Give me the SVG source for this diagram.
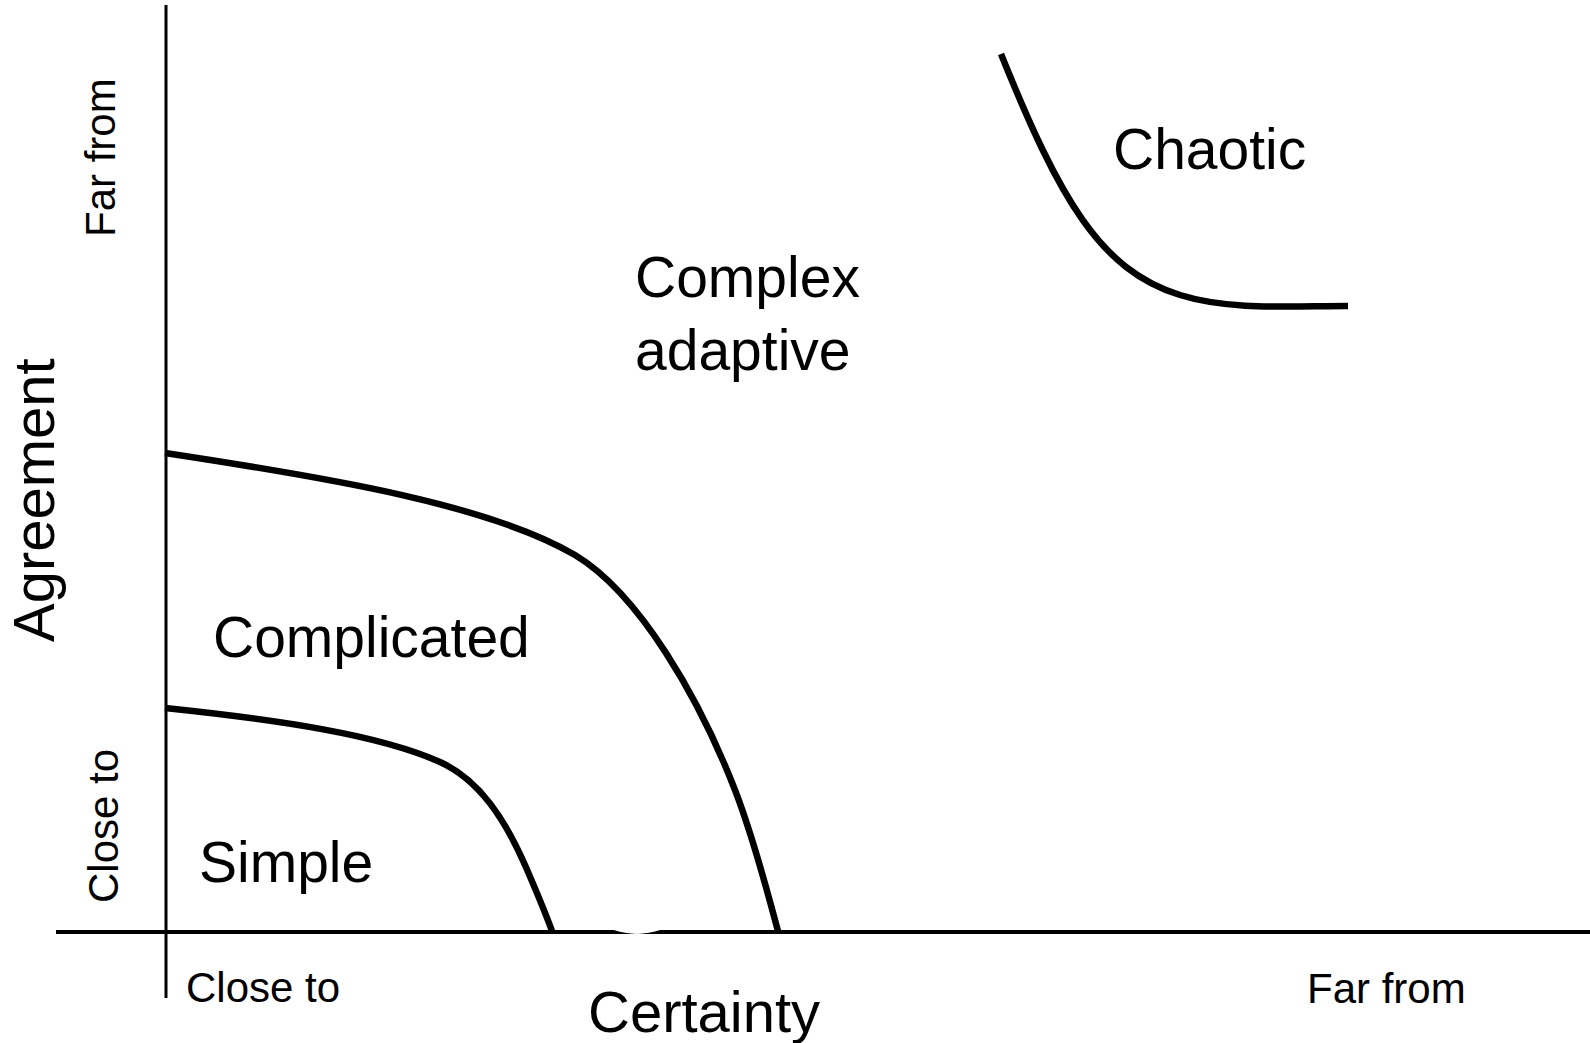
<svg xmlns="http://www.w3.org/2000/svg" width="1590" height="1043" viewBox="0 0 1590 1043">
<style>
  .t { font-family: "Liberation Sans", Arial, sans-serif; fill: #000; }
  .big { font-size: 57px; }
  .small { font-size: 42px; }
  .axis { fill: none; stroke: #000; }
  .curve { fill: none; stroke: #000; stroke-width: 6.5; stroke-linecap: butt; }
</style>
<rect width="1590" height="1043" fill="#fff"/>
<g id="connectors">
  <line class="axis" x1="166" y1="5" x2="166" y2="998" stroke-width="3"/>
  <line class="axis" x1="56" y1="932" x2="1590" y2="932" stroke-width="4"/>
  <path d="M613,929.8 Q637,938 661,929.8 Z" fill="#fff"/>
  <path id="simple-boundary" class="curve" d="M165,708 C280,720 380,735 440,762 C480,780 505,820 525,865 C535,888 545,912 552,931"/>
  <path id="complicated-boundary" class="curve" d="M165,453 C330,478 490,505 575,555 C640,594 700,700 735,790 C755,842 768,895 778,931"/>
  <path id="chaotic-boundary" class="curve" d="M1001,54 C1060,200 1100,270 1180,295 C1230,310.6 1290,306 1348,306"/>
</g>
<g id="axis-labels">
  <text class="t small" x="186" y="1002">Close to</text>
  <text class="t small" x="1307" y="1003">Far from</text>
  <text class="t" font-size="58" x="588" y="1032">Certainty</text>
  <text class="t" font-size="58" transform="translate(54,642) rotate(-90)">Agreement</text>
  <text class="t small" transform="translate(115,237) rotate(-90)">Far from</text>
  <text class="t small" transform="translate(118,903) rotate(-90)">Close to</text>
</g>
<g id="simple"><text class="t big" x="199" y="882">Simple</text></g>
<g id="complicated"><text class="t big" x="213" y="657">Complicated</text></g>
<g id="complex-adaptive">
  <text class="t big" x="635" y="297">Complex</text>
  <text class="t big" x="635" y="370">adaptive</text>
</g>
<g id="chaotic"><text class="t big" x="1113" y="169">Chaotic</text></g>
</svg>
